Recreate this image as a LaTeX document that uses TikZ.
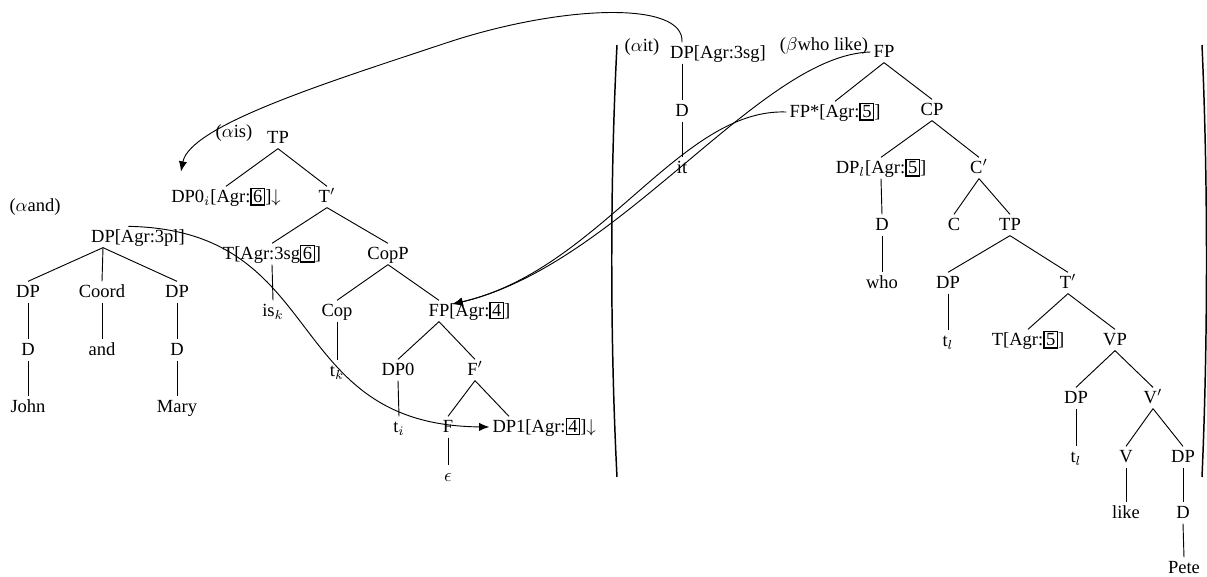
\documentclass[tikz,border=0pt]{standalone}
\usepackage{amsmath, amssymb}
\usepackage{fontspec}
\setmainfont{Liberation Serif}
\usetikzlibrary{
  positioning,
  arrows.meta
}
\setlength{\fboxsep}{0.8pt}
\setlength{\fboxrule}{0.7pt}

\begin{document}
\begin{tikzpicture}[x=0.54pt,y=-0.54pt,line width=0.5pt,>={Latex[length=5.5pt,width=4.5pt]},
    cat/.style={inner sep=1.5pt,text height=7pt,text depth=1pt},
    lbl/.style={inner sep=0pt}]
            \useasboundingbox (0,0) rectangle (1207,577);
            % alpha and
            \node[lbl] (laband) at (35,207) {($\alpha$and)};
            \node[cat] (dpand) at (103,237) {DP\rlap{[Agr:3pl]}};
            \node[cat] (dpjohn) at (28,292) {DP};
            \node[cat] (coord) at (102,292) {Coord};
            \node[cat] (dpmary) at (177,292) {DP};
            \node[cat] (djohn) at (28,350) {D};
            \node[cat] (wand) at (102,350) {and};
            \node[cat] (dmary) at (177,350) {D};
            \node[cat] (john) at (28,407) {John};
            \node[cat] (mary) at (177,407) {Mary};
            \draw (dpand.south) -- (dpjohn.north);
            \draw (dpand.south) -- (coord.north);
            \draw (dpand.south) -- (dpmary.north);
            \draw (dpjohn.south) -- (djohn.north);
            \draw (coord.south) -- (wand.north);
            \draw (dpmary.south) -- (dmary.north);
            \draw (djohn.south) -- (john.north);
            \draw (dmary.south) -- (mary.north);
            % alpha is
            \node[lbl] (labis) at (234,133) {($\alpha$is)};
            \node[cat] (tpis) at (278,138) {TP};
            \node[cat] (dpzero) at (226,197) {DP0$_i$[Agr:\fbox{6}]$\downarrow$};
            \node[cat] (tbar) at (327,197) {T$'$};
            \node[cat] (tagr) at (272,254) {T[Agr:3sg\fbox{6}]};
            \node[cat] (copp) at (388,254) {CopP};
            \node[cat] (isk) at (273,311) {is$_k$};
            \node[cat] (cop) at (337,311) {Cop};
            \node[cat] (fpfour) at (439,311) {FP\rlap{[Agr:\fbox{4}]}};
            \node[cat] (tk) at (337,371) {t$_k$};
            \node[cat] (dpnull) at (398,370) {DP0};
            \node[cat] (fbar) at (475,370) {F$'$};
            \node[cat] (ti) at (399,427) {t$_i$};
            \node[cat] (f) at (448,427) {F};
            \node[cat] (dpone) at (509,427) {DP1\rlap{[Agr:\fbox{4}]$\downarrow$}};
            \node[cat] (eps) at (448,476) {$\epsilon$};
            \draw (tpis.south) -- (dpzero.north);
            \draw (tpis.south) -- (tbar.north);
            \draw (tbar.south) -- (tagr.north);
            \draw (tbar.south) -- (copp.north);
            \draw (tagr.south) -- (isk.north);
            \draw (copp.south) -- (cop.north);
            \draw (copp.south) -- (fpfour.north);
            \draw (cop.south) -- (tk.north);
            \draw (fpfour.south) -- (dpnull.north);
            \draw (fpfour.south) -- (fbar.north);
            \draw (dpnull.south) -- (ti.north);
            \draw (fbar.south) -- (f.north);
            \draw (fbar.south) -- (dpone.north);
            \draw (f.south) -- (eps.north);
            % alpha it
            \node[lbl] (labit) at (642,47) {($\alpha$it)};
            \node[cat] (dpit) at (682,53) {DP\rlap{[Agr:3sg]}};
            \node[cat] (dit) at (682,111) {D};
            \node[cat] (wit) at (682,168) {it};
            \draw (dpit.south) -- (dit.north);
            \draw (dit.south) -- (wit.north);
            % beta who like
            \node[lbl] (labwho) at (824,46) {($\beta$who like)};
            \node[cat] (fproot) at (884,52) {FP};
            \node[cat] (fpfoot) at (835,112) {FP*[Agr:\fbox{5}]};
            \node[cat] (cp) at (932,110) {CP};
            \node[cat] (dpl) at (881,168) {DP$_l$[Agr:\fbox{5}]};
            \node[cat] (cbar) at (979,168) {C$'$};
            \node[cat] (dwho) at (882,225) {D};
            \node[cat] (c) at (954,225) {C};
            \node[cat] (tpwho) at (1010,225) {TP};
            \node[cat] (who) at (882,283) {who};
            \node[cat] (dpt) at (948,283) {DP};
            \node[cat] (tbarwho) at (1068,283) {T$'$};
            \node[cat] (tl) at (948,341) {t$_l$};
            \node[cat] (tfive) at (1028,340) {T[Agr:\fbox{5}]};
            \node[cat] (vp) at (1115,340) {VP};
            \node[cat] (dpv) at (1076,398) {DP};
            \node[cat] (vbar) at (1153,398) {V$'$};
            \node[cat] (tlv) at (1076,457) {t$_l$};
            \node[cat] (v) at (1126,457) {V};
            \node[cat] (dppete) at (1183,457) {DP};
            \node[cat] (like) at (1126,513) {like};
            \node[cat] (dpete) at (1183,513) {D};
            \node[cat] (pete) at (1184,568) {Pete};
            \draw (fproot.south) -- (fpfoot.north);
            \draw (fproot.south) -- (cp.north);
            \draw (cp.south) -- (dpl.north);
            \draw (cp.south) -- (cbar.north);
            \draw (dpl.south) -- (dwho.north);
            \draw (dwho.south) -- (who.north);
            \draw (cbar.south) -- (c.north);
            \draw (cbar.south) -- (tpwho.north);
            \draw (tpwho.south) -- (dpt.north);
            \draw (tpwho.south) -- (tbarwho.north);
            \draw (dpt.south) -- (tl.north);
            \draw (tbarwho.south) -- (tfive.north);
            \draw (tbarwho.south) -- (vp.north);
            \draw (vp.south) -- (dpv.north);
            \draw (vp.south) -- (vbar.north);
            \draw (dpv.south) -- (tlv.north);
            \draw (vbar.south) -- (v.north);
            \draw (vbar.south) -- (dppete.north);
            \draw (v.south) -- (like.north);
            \draw (dppete.south) -- (dpete.north);
            \draw (dpete.south) -- (pete.north);
            % set brackets
            \draw[line width=0.8pt] (617,45) .. controls (610,180) and (610,340) .. (617,477);
            \draw[line width=0.8pt] (1202,45) .. controls (1208,180) and (1208,340) .. (1202,477);
            % derivation arrows
            \draw[->] (dpit.north) .. controls (685,0) and (560,5) .. (446,43)
                .. controls (332,81) and (190,125) .. ([shift={(7pt,8pt)}]dpzero.north west);
            \draw[->] ([xshift=5.5pt]dpand.north east) .. controls (330,230) and (280,425) .. (dpone.west);
            \draw[->] (fproot.west) .. controls (760,55) and (620,265) .. ([yshift=-2pt]fpfour.north east);
            \draw[->] (fpfoot.west) .. controls (680,108) and (600,270) .. ([yshift=-2pt]fpfour.north east);
        \end{tikzpicture}
\end{document}
